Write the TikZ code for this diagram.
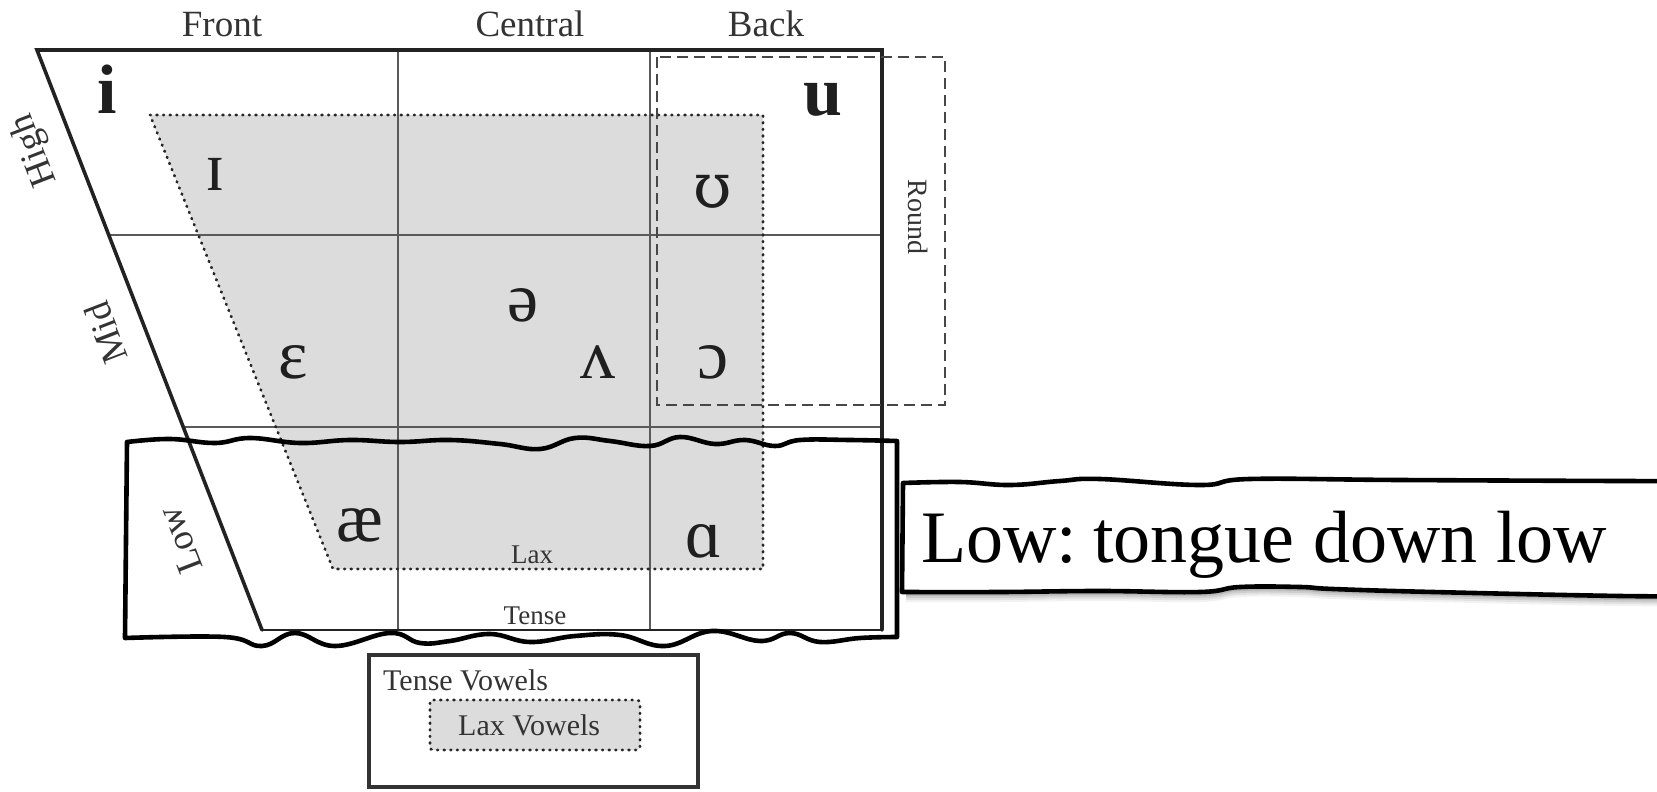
\documentclass[tikz,border=0pt]{standalone}
\usepackage{fontspec}
\setmainfont{Liberation Serif}
\newfontfamily\ipaalt{DejaVu Serif}
\definecolor{laxgray}{HTML}{DCDCDC}
\definecolor{gridgray}{HTML}{5A5A5A}
\definecolor{ink}{HTML}{333333}
\definecolor{frameink}{HTML}{222222}
\begin{document}
\begin{tikzpicture}[x=1pt,y=-1pt,
  hdr/.style={font=\fontsize{37}{40}\selectfont, text=ink, anchor=base, inner sep=0},
  side/.style={font=\fontsize{37}{40}\selectfont, text=ink, rotate=111, inner sep=0},
  ipa/.style={font=\fontsize{70}{74}\selectfont, text=black!88, anchor=base, inner sep=0},
  smalltxt/.style={font=\fontsize{27}{30}\selectfont, text=ink, anchor=base, inner sep=0},
  legtxt/.style={font=\fontsize{30}{34}\selectfont, text=ink, anchor=base west, inner sep=0},
  gridline/.style={draw=gridgray, line width=1.3pt},
  frame/.style={draw=frameink, line width=3.6pt, line cap=round},
  dotline/.style={draw=black!85, line width=2.8pt, line cap=round, dash pattern=on 0.8pt off 5.8pt},
  roundbox/.style={draw=black!72, line width=2.6pt, dash pattern=on 11pt off 6pt},
  handbox/.style={draw=black, line width=4.6pt, line join=round},
]
\useasboundingbox (0,0) rectangle (1657,792);
\clip (0,0) rectangle (1657,792);

% corners of the chart
\coordinate (TL) at (37,50);
\coordinate (TR) at (882,50);
\coordinate (BR) at (882,630);
\coordinate (BL) at (262,630);

% lax region fill
\fill[laxgray] (150,115) -- (763,115) -- (763,569) -- (333,569) -- cycle;

% grid
\draw[gridline] (398,50) -- (398,630);
\draw[gridline] (650,50) -- (650,630);
\draw[gridline] (108.8,235) -- (882,235);
\draw[gridline] (183.2,427) -- (882,427);

% lax dotted border
\draw[dotline] (150,115) -- (763,115) -- (763,569) -- (333,569) -- cycle;

% frame
\draw[frame] (BL) -- (TL) -- (TR) -- (BR);
\draw[frame, line width=2.8pt] (BL) -- (BR);

% round box
\draw[roundbox] (657,57) rectangle (945,405);
\node[font=\fontsize{28}{30}\selectfont, text=ink, rotate=-90, inner sep=0] (round) at (918,217) {Round};

% headers
\node[hdr] (front) at (222,37) {Front};
\node[hdr] (central) at (530,37) {Central};
\node[hdr] (back) at (766,37) {Back};

% side labels
\node[side] (high) at (35,150) {High};
\node[side] (mid) at (106,333) {Mid};
\node[side] (low) at (180,540) {Low};

% vowels
\node[ipa, font=\fontsize{70}{74}\selectfont\bfseries] (vi) at (107,113) {i};
\node[ipa, font=\fontsize{70}{74}\selectfont\bfseries] (vu) at (823,115) {u};
\node[ipa] (vI) at (215,190) {ɪ};
\node[ipa, font=\fontsize{62}{66}\ipaalt] (vU) at (713,207) {ʊ};
\node[ipa] (vschwa) at (523,321) {ə};
\node[ipa] (veps) at (293,378) {ɛ};
\node[ipa] (vwedge) at (598,378) {ʌ};
\node[ipa] (vopen) at (713,378) {ɔ};
\node[ipa] (vae) at (360,541) {æ};
\node[ipa] (vA) at (704,557) {ɑ};

% small labels
\node[smalltxt] (laxlbl) at (532,563) {Lax};
\node[smalltxt] (tenselbl) at (535,624) {Tense};

% hand-drawn highlight box
\draw[handbox] (125,638) -- (127,442) -- plot[smooth, tension=0.7] coordinates {(127,442) (170,439) (215,443) (250,438) (300,443) (350,440) (400,442) (450,440) (500,444) (540,449) (575,438) (610,441) (650,446) (680,437) (715,444) (745,440) (775,446) (800,440) (850,440) (897,441)} -- (897,637) -- plot[smooth, tension=0.7] coordinates {(897,637) (860,638) (820,642) (790,633) (760,641) (712,631) (665,646) (620,635) (575,636) (530,642) (490,634) (450,641) (420,643) (390,633) (335,646) (295,633) (262,646) (225,637) (125,638)} -- cycle;

% shadow of the label box
\foreach \dy/\op in {10/0.05, 8/0.07, 6/0.09, 4/0.11}{
  \fill[black, opacity=\op] (906,592+\dy) -- plot[smooth, tension=0.7] coordinates {(906,592+\dy) (1000,592+\dy) (1100,591+\dy) (1200,592+\dy) (1240,587+\dy) (1300,587+\dy) (1333,589+\dy) (1433,592+\dy) (1620,596+\dy) (1700,596+\dy)} -- (1700,560) -- (906,560) -- cycle;
}

% label box
\draw[handbox, fill=white] (902,592) -- (903,483) -- plot[smooth, tension=0.7] coordinates {(903,483) (960,482) (1010,485) (1060,481) (1100,479) (1200,485) (1250,479) (1400,480) (1620,481) (1700,481)} -- (1700,596) -- plot[smooth, tension=0.7] coordinates {(1700,596) (1620,596) (1433,592) (1333,589) (1300,587) (1240,587) (1200,592) (1100,591) (1000,592) (902,592)} -- cycle;
\node[font=\fontsize{74}{80}\selectfont, text=black, anchor=base west, inner sep=0] (lowlabel) at (921,562) {Low:\hspace{-0.12em} tongue down low};

% legend
\draw[draw=ink, line width=4.4pt] (369,655) rectangle (698,787);
\node[legtxt] (tenseleg) at (383,690) {Tense Vowels};
\fill[laxgray, rounded corners=3pt] (430,700) rectangle (640,750);
\draw[dotline, rounded corners=3pt] (430,700) rectangle (640,750);
\node[legtxt] (laxleg) at (458,735) {Lax Vowels};
\end{tikzpicture}
\end{document}
